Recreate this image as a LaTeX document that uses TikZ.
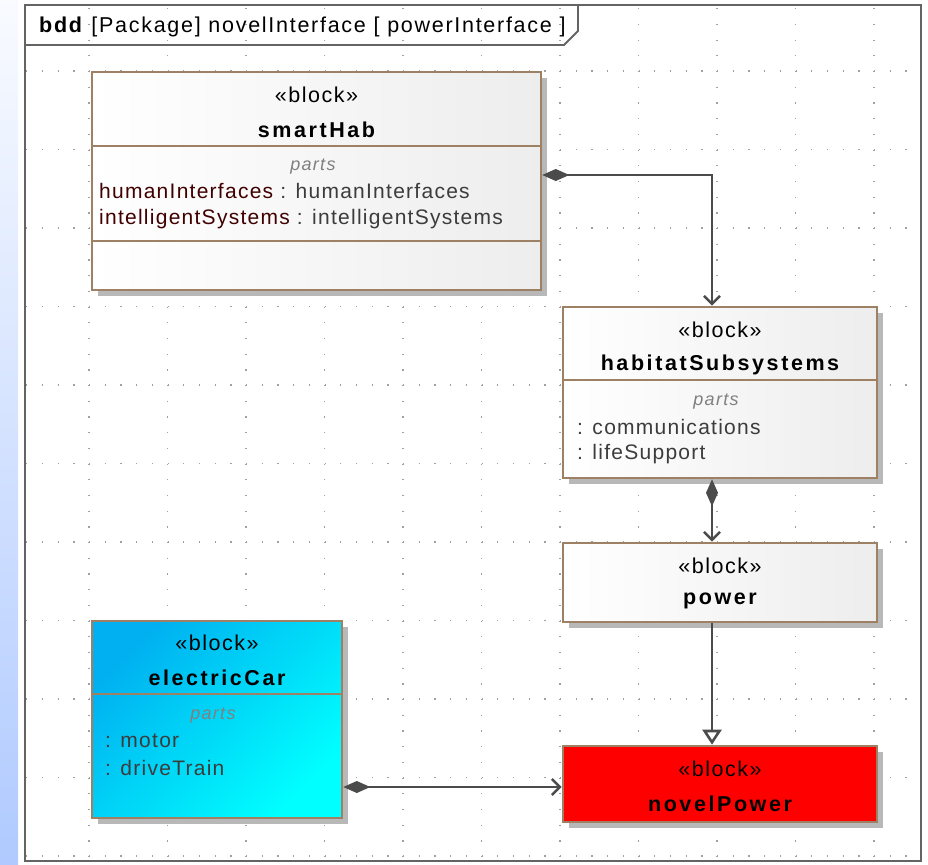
\documentclass[tikz,border=0pt]{standalone}
\usepackage{fontspec}
\setmainfont{Liberation Sans}
\newfontfamily\blockfont[LetterSpace=7]{Liberation Sans}
\newfontfamily\propfont[LetterSpace=6]{Liberation Sans}
\newfontfamily\titlefont[LetterSpace=8]{Liberation Sans}
\newfontfamily\namefont[LetterSpace=12]{Liberation Sans}
\usetikzlibrary{arrows.meta,shadows,calc}

\definecolor{edgebrown}{RGB}{158,128,100}
\definecolor{wiregray}{RGB}{75,75,75}
\definecolor{dotgray}{RGB}{160,160,160}
\definecolor{framegray}{RGB}{100,100,100}
\definecolor{carblue}{RGB}{0,176,240}
\definecolor{carcyan}{RGB}{0,255,255}
\definecolor{stripblue}{RGB}{176,202,255}
\definecolor{propred}{RGB}{64,0,0}
\definecolor{proptype}{RGB}{60,60,60}

\begin{document}
\begin{tikzpicture}[x=1pt, y=-1pt,
  block/.style={draw=edgebrown, line width=2.6pt, inner sep=0pt,
    drop shadow={shadow xshift=6pt, shadow yshift=-6pt, fill=black!28, opacity=1}},
  plainblock/.style={block, left color=white, right color=black!7},
  compart/.style={draw=edgebrown, line width=2.6pt},
  stereo/.style={font=\blockfont\fontsize{21.5}{25}\selectfont, inner sep=0pt},
  bname/.style={font=\namefont\bfseries\fontsize{21.5}{25}\selectfont, inner sep=0pt},
  partslbl/.style={font=\blockfont\itshape\fontsize{18}{22}\selectfont, text=black!50, inner sep=0pt},
  prop/.style={font=\propfont\fontsize{21}{25}\selectfont, text=proptype, anchor=west, inner sep=0pt},
  gridline/.style={dotgray, line width=1.2pt, dash pattern=on 1.2pt off 14.5pt},
  wire/.style={wiregray, line width=2.6pt},
  compose/.style={wire, {Diamond[length=27pt,width=12pt]}-{Straight Barb[length=8pt,width=16pt]}},
  generalize/.style={wire, -{Triangle[open,length=15pt,width=19pt,fill=white]}}
]
  \useasboundingbox (0,0) rectangle (928,864);
  % side strip and dotted grid
  \shade[top color=white!92!stripblue, bottom color=stripblue] (0,0) rectangle (18,864);
  \foreach \gx in {89,167.5,...,875} {
    \draw[gridline] (\gx,8.2) -- (\gx,860);
  }
  \foreach \gy in {71,149.5,...,857} {
    \draw[gridline] (26.2,\gy) -- (920,\gy);
  }
  %
  \draw[framegray, line width=2.6pt] (25,5) rectangle (921,861);
  \draw[framegray, line width=1.8pt] (25,45) -- (564,45) -- (578,31) -- (578,5);
  \node[anchor=west, inner sep=0pt, font=\titlefont\fontsize{21.5}{25}\selectfont] (title) at (39,27)
    {\textbf{bdd} [Package] novelInterface [ powerInterface ]};
  %
  % blocks
  \node[plainblock, minimum width=449pt, minimum height=218pt] (smartHab) at (316.5,181) {};
  \node[plainblock, minimum width=314pt, minimum height=171pt] (habitat) at (720,392.5) {};
  \node[plainblock, minimum width=314pt, minimum height=79pt] (power) at (720,582.5) {};
  \node[block, top color=carblue, bottom color=carcyan, shading angle=45,
        minimum width=250pt, minimum height=197pt] (electricCar) at (217,719.5) {};
  \node[block, fill=red, minimum width=314pt, minimum height=76pt] (novelPower) at (720,784) {};
  %
  \draw[compart] (smartHab.west |- 0,146) -- (smartHab.east |- 0,146);
  \draw[compart] (smartHab.west |- 0,241) -- (smartHab.east |- 0,241);
  \draw[compart] (habitat.west |- 0,380) -- (habitat.east |- 0,380);
  \draw[compart] (electricCar.west |- 0,694) -- (electricCar.east |- 0,694);
  %
  \foreach \id/\nm/\cx/\sy in {smartHab/smartHab/316.5/95, habitat/habitatSubsystems/720/330,
      power/power/720/566, electricCar/electricCar/217/643, novelPower/novelPower/720/769} {
    \pgfmathsetmacro{\ny}{\sy + 35}
    \node[stereo] (\id-st) at (\cx,\sy) {«block»};
    \node[bname] (\id-nm) at (\cx,\ny) {\nm};
  }
  %
  \node[partslbl] (smartHab-pt) at (313,167) {parts};
  \node[prop] (smartHab-p1) at (99,191) {\textcolor{propred}{humanInterfaces} : humanInterfaces};
  \node[prop] (smartHab-p2) at (99,219) {\textcolor{propred}{intelligentSystems} : intelligentSystems};
  \node[partslbl] (habitat-pt) at (716,402) {parts};
  \node[prop] (habitat-p1) at (577,427) {: communications};
  \node[prop] (habitat-p2) at (577,454) {: lifeSupport};
  \node[partslbl] (electricCar-pt) at (213,716) {parts};
  \node[prop] (electricCar-p1) at (105,741) {: motor};
  \node[prop] (electricCar-p2) at (105,768) {: driveTrain};
  %
  % connectors
  \coordinate (carPort) at ([yshift=-67.5pt]electricCar.east);
  \draw[compose] ([yshift=6pt]smartHab.east) -| ([xshift=-8pt]habitat.north);
  \draw[compose] ([xshift=-8pt]habitat.south) -- ([xshift=-8pt]power.north);
  \draw[generalize] ([xshift=-8pt]power.south) -- ([xshift=-8pt]novelPower.north);
  \draw[compose] (carPort) -- (carPort -| novelPower.west);
\end{tikzpicture}
\end{document}
